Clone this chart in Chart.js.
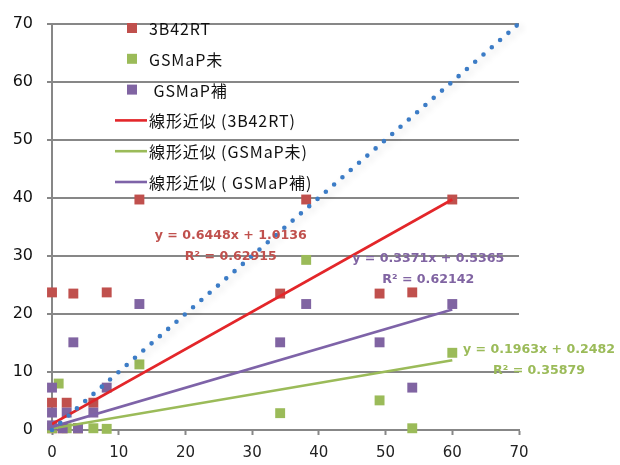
<!DOCTYPE html>
<html><head><meta charset="utf-8">
<script src="https://cdn.jsdelivr.net/npm/chart.js@4.4.1/dist/chart.umd.min.js"></script>
<style>html,body{margin:0;padding:0;background:#fff}#wrap{width:620px;height:465px}</style>
</head><body><div id="wrap"><canvas id="c" width="620" height="465"></canvas></div>
<script>
// Series names (legend order)
const seriesNames = ['3B42RT', 'GSMaP未', ' GSMaP補'];
const trendNames = ['線形近似 (3B42RT)', '線形近似 (GSMaP未)', '線形近似 ( GSMaP補)'];

// Observed (x) vs. estimated (y) rainfall for each product
const rtX = [0, 3.2, 8.2, 13.1, 34.2, 38.1, 49.1, 54, 60, 0, 2.2, 6.2, 0, 1.6, 3.9];
const rtY = [23.7, 23.5, 23.7, 39.7, 23.5, 39.7, 23.5, 23.7, 39.7, 4.7, 4.7, 4.7, 0.3, 0.3, 0.3];
const gsX = [1, 13.1, 34.2, 38.1, 49.1, 54, 60, 8.2, 0, 2.2, 3.9, 6.2];
const gsY = [8.0, 11.3, 2.9, 29.3, 5.1, 0.3, 13.3, 0.2, 0.3, 0.3, 0.3, 0.3];
const gcX = [0, 3.2, 8.2, 13.1, 34.2, 38.1, 49.1, 54, 60, 0, 2.2, 6.2, 0, 1.6, 3.9];
const gcY = [7.3, 15.1, 7.3, 21.7, 15.1, 21.7, 15.1, 7.3, 21.7, 3.0, 3.0, 3.0, 0.8, 0.3, 0.3];

// Linear fits (slope, intercept, R²) in the same order as the series
const slopes = [0.6448, 0.1963, 0.3371];
const intercepts = [1.0136, 0.2482, 0.5365];
const r2 = [0.62915, 0.35879, 0.62142];

// Axis ticks
const xTicks = [0, 10, 20, 30, 40, 50, 60, 70];
const yTicks = [0, 10, 20, 30, 40, 50, 60, 70];

const markerColors = ['#C0504D', '#9BBB59', '#8064A2'];
const trendColors = ['#E3262A', '#9BBB59', '#7E63A8'];
const labelColors = ['#C0504D', '#9BBB59', '#8064A2'];
const gridColor = '#878787';

const pts = (xs, ys) => xs.map((x, i) => ({x: x, y: ys[i]}));
const xsAll = [rtX, gsX, gcX];
const ysAll = [rtY, gsY, gcY];

const scatterSets = [0, 1, 2].map(i => ({
  type: 'scatter', label: seriesNames[i], data: pts(xsAll[i], ysAll[i]),
  backgroundColor: markerColors[i], borderColor: markerColors[i], borderWidth: 0,
  pointStyle: 'rect', pointRadius: 7, pointHoverRadius: 7, order: 9 - i, clip: false
}));

const trendSets = [0, 1, 2].map(i => {
  const x0 = Math.min(...xsAll[i]), x1 = Math.max(...xsAll[i]);
  return {
    type: 'line', label: trendNames[i],
    data: [{x: x0, y: slopes[i] * x0 + intercepts[i]}, {x: x1, y: slopes[i] * x1 + intercepts[i]}],
    borderColor: trendColors[i], borderWidth: 2.6, pointRadius: 0, fill: false, order: 5 - i
  };
});

// 1:1 reference line
const diagSet = {
  type: 'line', label: '1:1', data: [{x: 0, y: 0}, {x: 70, y: 70}],
  borderColor: '#3C7CC6', borderWidth: 4.6, borderDash: [0, 11], borderCapStyle: 'round',
  pointRadius: 0, fill: false, order: 1, isDiag: true, clip: false
};

const ordered = [diagSet, ...trendSets, ...scatterSets];

// soft shadow beside the 1:1 line
const diagShadow = {
  id: 'diagShadow',
  beforeDatasetDraw(chart, args) {
    if (!chart.data.datasets[args.index].isDiag) return;
    const c = chart.ctx; c.save();
    c.shadowColor = 'rgba(0,0,0,0.16)'; c.shadowBlur = 7; c.shadowOffsetX = 3; c.shadowOffsetY = 3;
  },
  afterDatasetDraw(chart, args) {
    if (!chart.data.datasets[args.index].isDiag) return;
    chart.ctx.restore();
  }
};

// legend drawn inside the plot area
const innerLegend = {
  id: 'innerLegend',
  afterDatasetsDraw(chart) {
    const c = chart.ctx; c.save();
    const left = 115, textX = 149, rowY0 = 28, rowH = 30.8;
    c.font = '16px "Noto Sans CJK JP", "Noto Sans", sans-serif';
    if ('letterSpacing' in c) c.letterSpacing = '0.9px';
    c.textBaseline = 'middle'; c.textAlign = 'left'; c.fillStyle = '#111';
    const entries = [...seriesNames.map((n, i) => ({n, kind: 'm', col: markerColors[i]})),
                     ...trendNames.map((n, i) => ({n, kind: 'l', col: trendColors[i]}))];
    entries.forEach((e, k) => {
      const y = rowY0 + k * rowH;
      if (e.kind === 'm') {
        c.fillStyle = e.col; c.fillRect(127, y - 5, 10, 10);
      } else {
        c.strokeStyle = e.col; c.lineWidth = 2.6; c.beginPath();
        c.moveTo(left, y); c.lineTo(147, y); c.stroke();
      }
      c.fillStyle = '#111'; c.fillText(e.n, textX, y + 1);
    });
    c.restore();
  }
};

// fit equations, anchored in data space
const eqAnchors = [{x: 26.8, y: 33.4}, {x: 73.0, y: 13.8}, {x: 56.4, y: 29.5}];
const eqLabels = {
  id: 'eqLabels',
  afterDatasetsDraw(chart) {
    const c = chart.ctx, xs = chart.scales.x, ys = chart.scales.y;
    c.save();
    c.font = 'bold 12.6px "DejaVu Sans", sans-serif';
    c.textAlign = 'center'; c.textBaseline = 'middle';
    [0, 1, 2].forEach(i => {
      const px = xs.getPixelForValue(eqAnchors[i].x), py = ys.getPixelForValue(eqAnchors[i].y);
      c.fillStyle = labelColors[i];
      c.fillText('y = ' + slopes[i].toFixed(4) + 'x + ' + intercepts[i].toFixed(4), px, py);
      c.fillText('R² = ' + r2[i].toFixed(5), px, py + 20.5);
    });
    c.restore();
  }
};

new Chart(document.getElementById('c'), {
  type: 'scatter',
  data: {datasets: ordered},
  options: {
    responsive: false, animation: false, devicePixelRatio: 1,
    layout: {padding: {top: 15, right: 101, left: 0, bottom: 0}},
    plugins: {legend: {display: false}, tooltip: {enabled: false}},
    scales: {
      x: {
        type: 'linear', min: 0, max: 70,
        afterBuildTicks: s => { s.ticks = xTicks.map(v => ({value: v})); },
        afterFit: s => { s.height = 35; },
        ticks: {color: '#222', font: {family: '"DejaVu Sans", sans-serif', size: 15}, padding: 9},
        grid: {drawOnChartArea: false, drawTicks: true, tickLength: 5, tickColor: gridColor, tickWidth: 2},
        border: {display: true, color: gridColor, width: 2}
      },
      y: {
        type: 'linear', min: 0, max: 70,
        afterBuildTicks: s => { s.ticks = yTicks.map(v => ({value: v})); },
        afterFit: s => { s.width = 52; },
        ticks: {color: '#111', font: {family: '"DejaVu Sans", sans-serif', size: 16}, padding: 14},
        grid: {color: gridColor, lineWidth: 2, drawTicks: true, tickLength: 5, tickColor: gridColor, tickWidth: 2},
        border: {display: true, color: gridColor, width: 2}
      }
    }
  },
  plugins: [diagShadow, innerLegend, eqLabels]
});
</script></body></html>
